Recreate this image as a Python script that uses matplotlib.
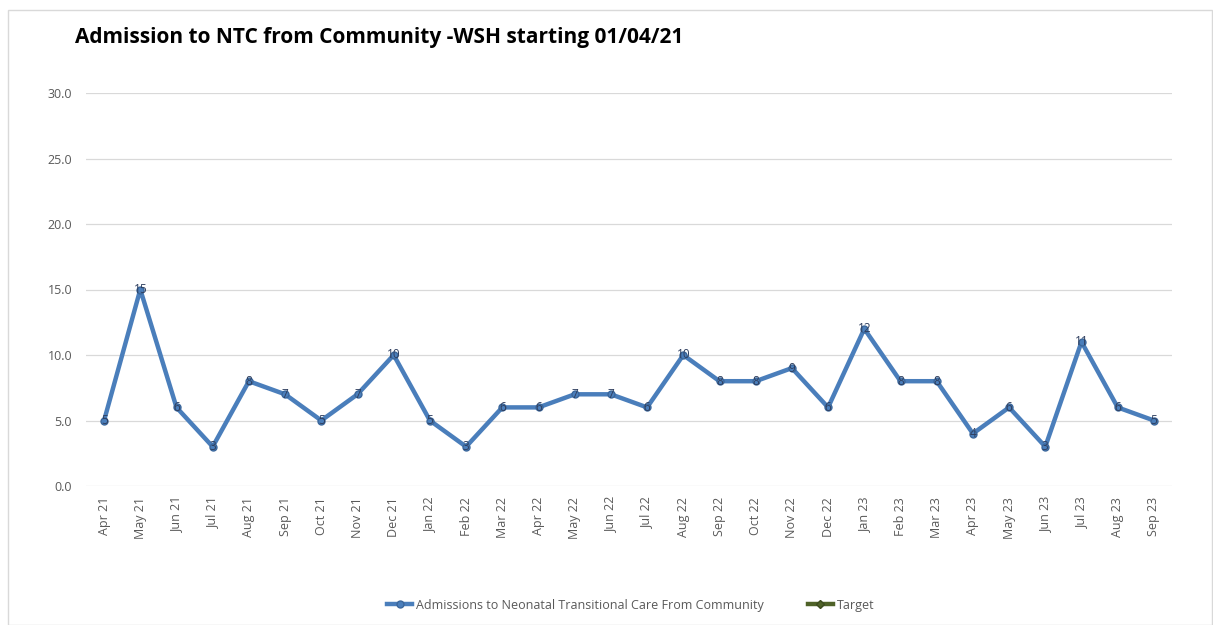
import matplotlib
matplotlib.use("Agg")
import matplotlib.pyplot as plt
from matplotlib.patches import Rectangle

months = ["Apr 21", "May 21", "Jun 21", "Jul 21", "Aug 21", "Sep 21", "Oct 21", "Nov 21",
          "Dec 21", "Jan 22", "Feb 22", "Mar 22", "Apr 22", "May 22", "Jun 22", "Jul 22",
          "Aug 22", "Sep 22", "Oct 22", "Nov 22", "Dec 22", "Jan 23", "Feb 23", "Mar 23",
          "Apr 23", "May 23", "Jun 23", "Jul 23", "Aug 23", "Sep 23"]
admissions = [5, 15, 6, 3, 8, 7, 5, 7, 10, 5, 3, 6, 6, 7, 7, 6, 10, 8, 8, 9, 6, 12, 8, 8,
              4, 6, 3, 11, 6, 5]
target = []
y_ticks = [0, 5, 10, 15, 20, 25, 30]

title = "Admission to NTC from Community -WSH starting 01/04/21"
series_name = "Admissions to Neonatal Transitional Care From Community"
target_name = "Target"

plt.rcParams["font.family"] = ["Open Sans", "DejaVu Sans"]

fig = plt.figure(figsize=(12.13, 6.25), dpi=100)
fig.patch.set_facecolor("white")

# outer chart frame
fig.add_artist(Rectangle((8 / 1213, 0.0), 1204 / 1213, 1 - 10 / 625,
                         transform=fig.transFigure, fill=False,
                         edgecolor="#d9d9d9", linewidth=1.0))

ax = fig.add_axes([86 / 1213, (625 - 486) / 625, 1086 / 1213, (486 - 93) / 625])

blue = "#4a7ebb"
x = list(range(len(months)))
ax.plot(x, admissions, color=blue, linewidth=3.2, marker="o", markersize=5,
        markerfacecolor=blue, markeredgecolor="#3b679b", markeredgewidth=1.0,
        label=series_name, zorder=3)
ax.plot(range(len(target)), target, color="#4f6228", linewidth=3.2, marker="D",
        markersize=4.5, markerfacecolor="#4f6228", markeredgecolor="#3c4b1e",
        label=target_name)

for xi, v in zip(x, admissions):
    ax.text(xi, v, f"{v}", ha="center", va="center", fontsize=8.5,
            color="#2f3f5f", zorder=4)

ax.set_xlim(-0.5, len(months) - 0.5)
ax.set_ylim(0, 30)
ax.set_yticks(y_ticks)
ax.set_yticklabels([f"{t:.1f}" for t in y_ticks])
ax.set_xticks(x)
ax.set_xticklabels(months, rotation=90)
ax.tick_params(axis="both", length=0, labelsize=9, colors="#595959")
ax.tick_params(axis="y", pad=10)
ax.tick_params(axis="x", pad=8)
ax.grid(axis="y", color="#d9d9d9", linewidth=0.9)
ax.set_axisbelow(True)
for s in ax.spines.values():
    s.set_visible(False)

fig.text(75 / 1213, 1 - 38 / 625, title, fontsize=15, fontweight="bold",
         color="black", va="center", ha="left", family=["Open Sans", "DejaVu Sans"])

fig.legend(loc="center", bbox_to_anchor=(0.52, 1 - 605 / 625), ncol=2,
           frameon=False, fontsize=9, labelcolor="#595959", handlelength=2.0,
           columnspacing=3.5, handletextpad=0.3)

fig.savefig("out.png", dpi=100, facecolor="white")
